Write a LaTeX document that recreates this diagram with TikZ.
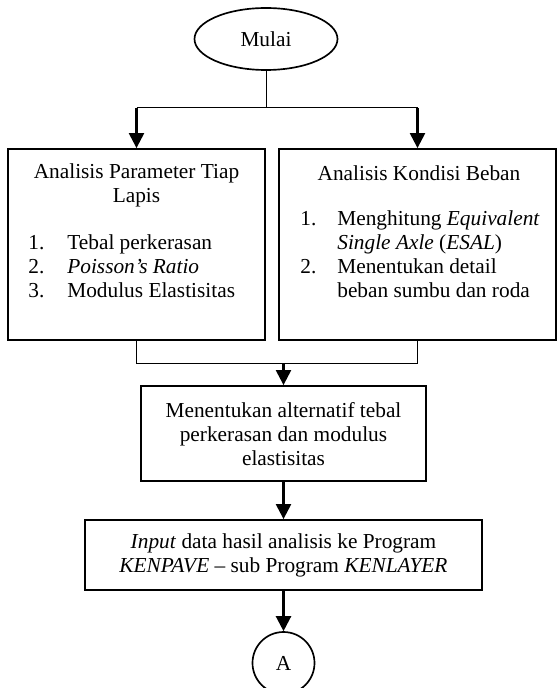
\documentclass[tikz,border=0pt]{standalone}
\usepackage{fontspec}
\setmainfont{Liberation Serif}
\usetikzlibrary{arrows.meta,shapes.geometric}
\tikzset{
  txt/.style={font=\fontsize{12.8}{14.4}\selectfont, inner sep=0pt},
  procbox/.style={draw, line width=1.1pt, inner sep=0pt},
  thinline/.style={line width=0.6pt},
  arrowline/.style={line width=1.4pt, -{Triangle[length=9pt,width=9pt]}},
}
\begin{document}
\begin{tikzpicture}[x=0.6pt,y=-0.6pt]
\useasboundingbox (0,0) rectangle (558,688);
% start
\node[ellipse, draw, line width=1pt, minimum width=85.8pt, minimum height=37.2pt, inner sep=0pt, txt] (mulai) at (266,39) {Mulai};
% two boxes
\node[procbox, minimum width=154.2pt, minimum height=114.6pt] (lbox) at (136.5,244.5) {};
\node[procbox, minimum width=166.2pt, minimum height=114.6pt] (rbox) at (417.5,244.5) {};
\node[txt, align=center] (ltitle) at (136.5,185) {Analisis Parameter Tiap\\Lapis};
\node[txt, anchor=west] (llist) at (28,269) {\begin{tabular}{@{}p{23.4pt}@{}l@{}}
1. & Tebal perkerasan\\
2. & \textit{Poisson’s Ratio}\\
3. & Modulus Elastisitas
\end{tabular}};
\node[txt] (rtitle) at (419,173) {Analisis Kondisi Beban};
\node[txt, anchor=west] (rlist) at (300,257) {\begin{tabular}{@{}p{22.2pt}@{}l@{}}
1. & Menghitung \textit{Equivalent}\\
   & \textit{Single Axle} (\textit{ESAL})\\
2. & Menentukan detail\\
   & beban sumbu dan roda
\end{tabular}};
% middle box
\node[procbox, minimum width=171pt, minimum height=57pt] (mid) at (283.5,433.5) {};
\node[txt, align=center] (midtext) at (283.5,434) {Menentukan alternatif tebal\\perkerasan dan modulus\\elastisitas};
% input box
\node[procbox, minimum width=238.2pt, minimum height=42pt] (inp) at (283.5,555) {};
\node[txt, align=center] (inptext) at (283.5,555) {\textit{Input} data hasil analisis ke Program\\\textit{KENPAVE} – sub Program \textit{KENLAYER}};
% connector A
\node[circle, draw, line width=1pt, minimum size=37.2pt, inner sep=0pt, txt] (conA) at (283.5,663) {A};
% connectors
\coordinate (split) at (266,108);
\coordinate (merge) at (283.5,363);
\draw[thinline] (mulai.south) -- (split);
\draw[thinline] (lbox.north |- split) -- (rbox.north |- split);
\draw[arrowline] (lbox.north |- split) -- (lbox.north);
\draw[arrowline] (rbox.north |- split) -- (rbox.north);
\draw[thinline] (lbox.south) -- (lbox.south |- merge) -- (rbox.south |- merge) -- (rbox.south);
\draw[arrowline] (mid.north |- merge) -- (mid.north);
\draw[arrowline] (mid.south) -- (inp.north);
\draw[arrowline] (inp.south) -- (conA.north);
\end{tikzpicture}
\end{document}
